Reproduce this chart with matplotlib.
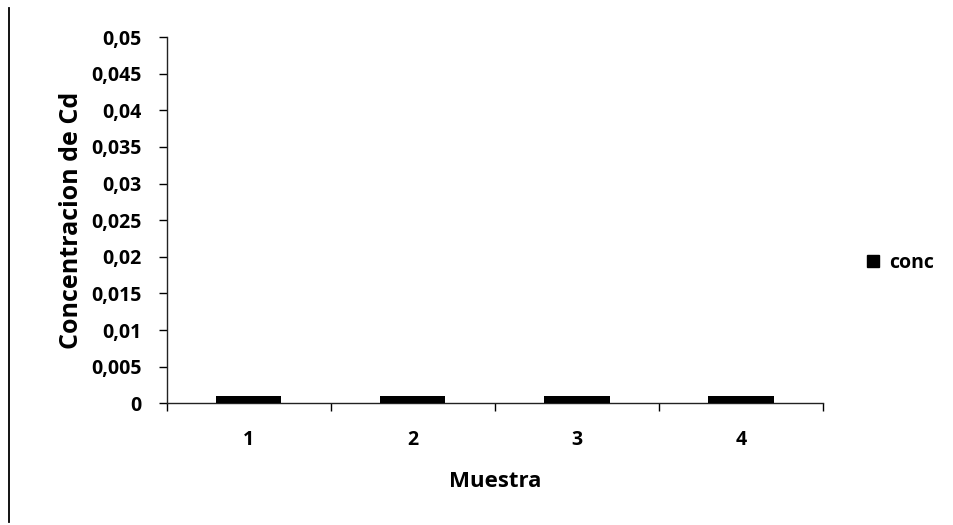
import matplotlib

matplotlib.use('Agg')
import matplotlib.pyplot as plt
from matplotlib.lines import Line2D
from matplotlib.ticker import FuncFormatter, MultipleLocator

plt.rcParams['font.family'] = ['Open Sans', 'DejaVu Sans']

# data
muestras = ['1', '2', '3', '4']
conc = [0.001, 0.001, 0.001, 0.001]

fig = plt.figure(figsize=(9.54, 5.25), dpi=100)
fig.patch.set_facecolor('white')
ax = fig.add_axes([0.1747, 0.2318, 0.8624 - 0.1747, 0.9295 - 0.2318])

x = list(range(len(muestras)))
ax.bar(x, conc, width=0.4, color='black', label='conc', zorder=3)

ax.set_xlim(-0.5, len(muestras) - 0.5)
ax.set_ylim(0, 0.05)
ax.yaxis.set_major_locator(MultipleLocator(0.005))


def comma_fmt(v, pos):
    if abs(v) < 1e-12:
        return '0'
    return ('%g' % round(v, 4)).replace('.', ',')


ax.yaxis.set_major_formatter(FuncFormatter(comma_fmt))
ax.set_xticks(x)
ax.set_xticklabels(muestras)
ax.set_xticks([i - 0.5 for i in range(len(muestras) + 1)], minor=True)

for side in ['top', 'right']:
    ax.spines[side].set_visible(False)
for side in ['left', 'bottom']:
    ax.spines[side].set_color('#222222')
    ax.spines[side].set_linewidth(1.0)

ax.tick_params(axis='y', direction='out', length=6, width=1, pad=12,
               labelsize=14, colors='black')
ax.tick_params(axis='x', which='major', length=0, pad=19, labelsize=14)
ax.tick_params(axis='x', which='minor', direction='out', length=6, width=1)
for lab in ax.get_xticklabels() + ax.get_yticklabels():
    lab.set_fontweight('bold')

ax.set_xlabel('Muestra', fontsize=16, fontweight='bold', labelpad=15)
ax.set_ylabel('Concentracion de Cd', fontsize=18, fontweight='bold', labelpad=5)

handle = Line2D([], [], marker='s', color='black', linestyle='none', markersize=9)
fig.legend([handle], ['conc'], loc='center left', bbox_to_anchor=(0.887, 0.499),
           frameon=False, handletextpad=-0.2, borderaxespad=0,
           prop={'weight': 'bold', 'size': 14})

# left border of the chart frame
fig.add_artist(Line2D([0.0095, 0.0095], [0.985, 0.005], transform=fig.transFigure,
                      color='black', linewidth=1.3))

fig.savefig('out.png', dpi=100, facecolor='white')
print('OK')
